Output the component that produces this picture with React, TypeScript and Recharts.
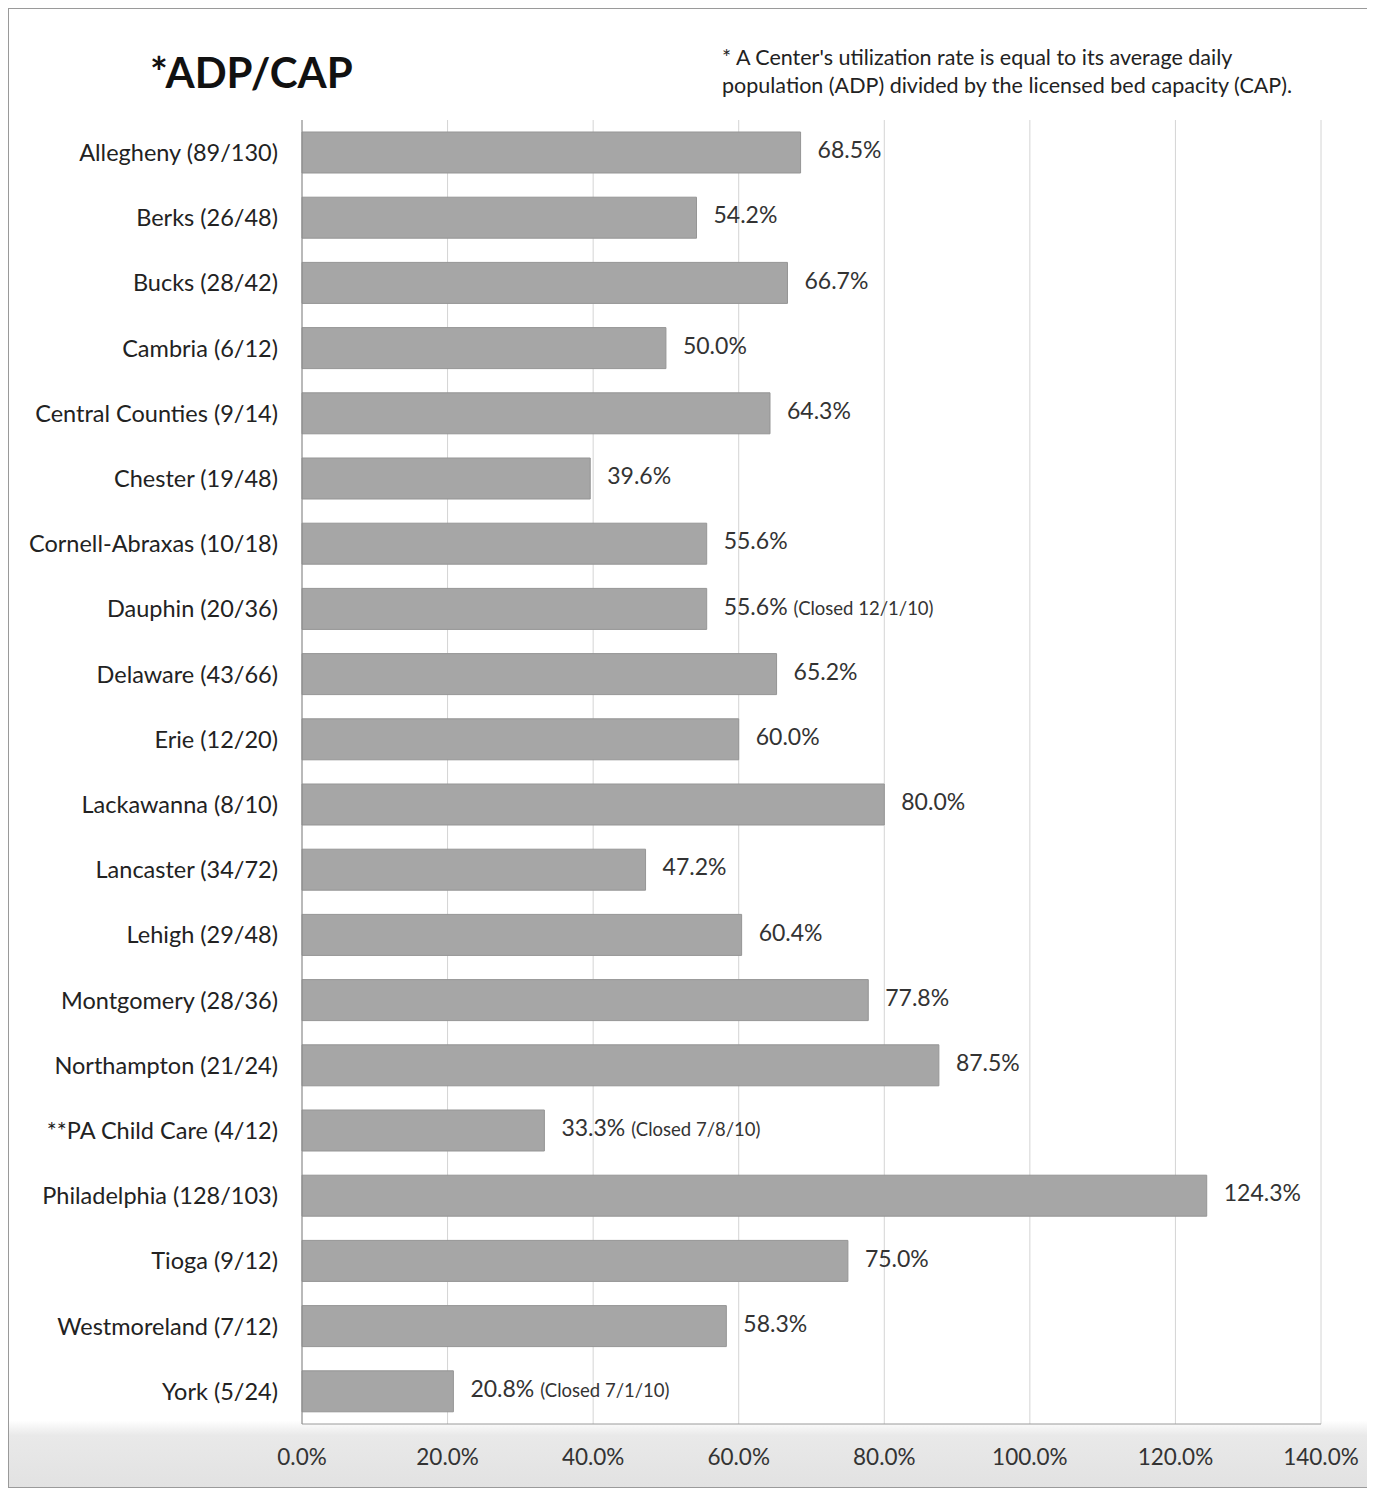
import { BarChart, Bar, XAxis, YAxis, CartesianGrid, LabelList } from 'recharts';

const centers = [
  'Allegheny (89/130)',
  'Berks (26/48)',
  'Bucks (28/42)',
  'Cambria (6/12)',
  'Central Counties (9/14)',
  'Chester (19/48)',
  'Cornell-Abraxas (10/18)',
  'Dauphin (20/36)',
  'Delaware (43/66)',
  'Erie (12/20)',
  'Lackawanna (8/10)',
  'Lancaster (34/72)',
  'Lehigh (29/48)',
  'Montgomery (28/36)',
  'Northampton (21/24)',
  '**PA Child Care (4/12)',
  'Philadelphia (128/103)',
  'Tioga (9/12)',
  'Westmoreland (7/12)',
  'York (5/24)',
];

const utilization = [
  68.5, 54.2, 66.7, 50.0, 64.3, 39.6, 55.6, 55.6, 65.2, 60.0,
  80.0, 47.2, 60.4, 77.8, 87.5, 33.3, 124.3, 75.0, 58.3, 20.8,
];

const notes = [
  '', '', '', '', '', '', '', '(Closed 12/1/10)', '', '',
  '', '', '', '', '', '(Closed 7/8/10)', '', '', '', '(Closed 7/1/10)',
];

const xTicks = [0, 20, 40, 60, 80, 100, 120, 140];

const data = centers.map((name, i) => ({ name, value: utilization[i], note: notes[i] }));

const FONT = 'Lato, "Open Sans", sans-serif';

function ValueLabel(props: any) {
  const { x, y, width, height, index } = props;
  const row = data[index];
  return (
    <text x={x + width + 17} y={y + height / 2} dy="0.35em" fontFamily={FONT} fill="#333">
      <tspan fontSize={23}>{row.value.toFixed(1)}%</tspan>
      {row.note ? <tspan fontSize={18.5} dx={6}>{row.note}</tspan> : null}
    </text>
  );
}

export default function App() {
  return (
    <div
      style={{
        position: 'relative',
        width: 1367,
        height: 1480,
        border: '1px solid #9a9a9a',
        borderRight: 'none',
        background: 'linear-gradient(to bottom, #ffffff 0%, #ffffff 95.5%, #e9e9e9 96.5%, #e2e2e2 100%)',
        fontFamily: FONT,
        boxSizing: 'border-box',
      }}
    >
      <div style={{ position: 'absolute', left: 141, top: 38, fontSize: 42, fontWeight: 700, color: '#111' }}>
        *ADP/CAP
      </div>
      <div style={{ position: 'absolute', left: 713, top: 34, fontSize: 21.5, lineHeight: '28px', color: '#222' }}>
        * A Center's utilization rate is equal to its average daily
        <br />
        population (ADP) divided by the licensed bed capacity (CAP).
      </div>
      <BarChart
        width={1367}
        height={1480}
        data={data}
        layout="vertical"
        margin={{ top: 111, right: 55, bottom: 22, left: 0 }}
        barSize={41}
      >
        <CartesianGrid horizontal={false} stroke="#d4d4d4" fill="#ffffff" />
        <XAxis
          type="number"
          domain={[0, 140]}
          ticks={xTicks}
          tickFormatter={(v: number) => `${v.toFixed(1)}%`}
          tick={{ fontSize: 22.5, fill: '#333', fontFamily: FONT }}
          tickSize={0}
          tickMargin={25}
          axisLine={{ stroke: '#9a9a9a' }}
          height={43}
          interval={0}
        />
        <YAxis
          type="category"
          dataKey="name"
          width={293}
          tick={{ fontSize: 23.5, fill: '#222', fontFamily: FONT }}
          tickSize={0}
          tickMargin={24}
          axisLine={{ stroke: '#8a8a8a' }}
          interval={0}
        />
        <Bar dataKey="value" fill="#a6a6a6" stroke="#959595" strokeWidth={1} isAnimationActive={false}>
          <LabelList dataKey="value" content={ValueLabel} />
        </Bar>
      </BarChart>
    </div>
  );
}
